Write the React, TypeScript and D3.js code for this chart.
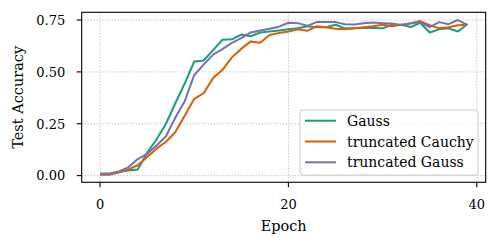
import React, { useEffect, useRef } from "react";
import * as d3 from "d3";

// test accuracy per epoch
const epochs = d3.range(40);

const gaussAcc = [
  0.005, 0.005, 0.018, 0.025, 0.03, 0.11, 0.175, 0.25, 0.35, 0.445,
  0.55, 0.555, 0.605, 0.655, 0.657, 0.68, 0.672, 0.69, 0.695, 0.7,
  0.705, 0.71, 0.72, 0.715, 0.715, 0.727, 0.71, 0.71, 0.712, 0.712,
  0.71, 0.727, 0.727, 0.716, 0.737, 0.69, 0.705, 0.71, 0.695, 0.73,
];

const cauchyAcc = [
  0.005, 0.005, 0.015, 0.03, 0.05, 0.09, 0.13, 0.163, 0.21, 0.29,
  0.37, 0.397, 0.47, 0.51, 0.57, 0.612, 0.647, 0.64, 0.678, 0.688,
  0.695, 0.705, 0.698, 0.72, 0.715, 0.708, 0.705, 0.71, 0.715, 0.72,
  0.727, 0.72, 0.727, 0.735, 0.745, 0.725, 0.71, 0.715, 0.725, 0.727,
];

const truncGaussAcc = [
  0.01, 0.01, 0.02, 0.04, 0.08, 0.105, 0.145, 0.19, 0.28, 0.36,
  0.485, 0.535, 0.583, 0.61, 0.64, 0.663, 0.69, 0.7, 0.708, 0.718,
  0.737, 0.735, 0.722, 0.74, 0.74, 0.74, 0.73, 0.728, 0.735, 0.738,
  0.735, 0.733, 0.725, 0.733, 0.74, 0.716, 0.74, 0.73, 0.75, 0.727,
];

const seriesNames = ["Gauss", "truncated Cauchy", "truncated Gauss"];
const seriesColors = ["#1b9e77", "#d95f02", "#7570b3"];

const xTicks = [0, 20, 40];
const yTicks = [0, 0.25, 0.5, 0.75];

const W = 498;
const H = 247;
const FONT = "'DejaVu Serif', serif";

export default function App() {
  const ref = useRef<SVGSVGElement>(null);

  useEffect(() => {
    const margin = { top: 12.3, right: 12.3, bottom: 64.7, left: 81.7 };
    const svg = d3.select(ref.current);
    svg.selectAll("*").remove();

    const allSeries = [gaussAcc, cauchyAcc, truncGaussAcc];

    // matplotlib style 5% padding around the data
    const xPad = (epochs.length - 1) * 0.05;
    const yMin = d3.min(allSeries, (s) => d3.min(s)) as number;
    const yMax = d3.max(allSeries, (s) => d3.max(s)) as number;
    const yPad = (yMax - yMin) * 0.05;

    const x = d3
      .scaleLinear()
      .domain([-xPad, epochs.length - 1 + xPad])
      .range([margin.left, W - margin.right]);
    const y = d3
      .scaleLinear()
      .domain([yMin - yPad, yMax + yPad])
      .range([H - margin.bottom, margin.top]);

    // dotted grid
    const grid = svg.append("g");
    grid
      .selectAll("line.gx")
      .data(xTicks)
      .join("line")
      .attr("x1", (d) => x(d))
      .attr("x2", (d) => x(d))
      .attr("y1", margin.top)
      .attr("y2", H - margin.bottom)
      .attr("stroke", "#b0b0b0")
      .attr("stroke-width", 1)
      .attr("stroke-dasharray", "1,2");
    grid
      .selectAll("line.gy")
      .data(yTicks)
      .join("line")
      .attr("x1", margin.left)
      .attr("x2", W - margin.right)
      .attr("y1", (d) => y(d))
      .attr("y2", (d) => y(d))
      .attr("stroke", "#b0b0b0")
      .attr("stroke-width", 1)
      .attr("stroke-dasharray", "1,2");

    // the curves
    const line = d3
      .line<number>()
      .x((_, i) => x(epochs[i]))
      .y((d) => y(d));
    allSeries.forEach((s, i) => {
      svg
        .append("path")
        .datum(s)
        .attr("d", line)
        .attr("fill", "none")
        .attr("stroke", seriesColors[i])
        .attr("stroke-width", 2)
        .attr("stroke-linejoin", "round");
    });

    // frame
    svg
      .append("rect")
      .attr("x", margin.left)
      .attr("y", margin.top)
      .attr("width", W - margin.left - margin.right)
      .attr("height", H - margin.top - margin.bottom)
      .attr("fill", "none")
      .attr("stroke", "black")
      .attr("stroke-width", 1.1);

    // x ticks
    const xt = svg
      .append("g")
      .selectAll("g")
      .data(xTicks)
      .join("g")
      .attr("transform", (d) => `translate(${x(d)},${H - margin.bottom})`);
    xt.append("line").attr("y2", 5).attr("stroke", "black").attr("stroke-width", 1.1);
    xt.append("text")
      .attr("y", 27.2)
      .attr("text-anchor", "middle")
      .style("font-family", FONT)
      .style("font-size", "13px")
      .text((d) => String(d));

    // y ticks
    const yt = svg
      .append("g")
      .selectAll("g")
      .data(yTicks)
      .join("g")
      .attr("transform", (d) => `translate(${margin.left},${y(d)})`);
    yt.append("line").attr("x2", -5).attr("stroke", "black").attr("stroke-width", 1.1);
    yt.append("text")
      .attr("x", -16.5)
      .attr("y", 4.8)
      .attr("text-anchor", "end")
      .style("font-family", FONT)
      .style("font-size", "13px")
      .text((d) => d.toFixed(2));

    // axis titles
    svg
      .append("text")
      .attr("x", (margin.left + W - margin.right) / 2)
      .attr("y", 231)
      .attr("text-anchor", "middle")
      .style("font-family", FONT)
      .style("font-size", "14.5px")
      .text("Epoch");
    svg
      .append("text")
      .attr("transform", `translate(23,${(margin.top + H - margin.bottom) / 2}) rotate(-90)`)
      .attr("text-anchor", "middle")
      .style("font-family", FONT)
      .style("font-size", "14.5px")
      .text("Test Accuracy");

    // legend
    const lg = svg.append("g").attr("transform", "translate(300,110)");
    lg.append("rect")
      .attr("width", 178)
      .attr("height", 65)
      .attr("rx", 3)
      .attr("fill", "white")
      .attr("fill-opacity", 0.8)
      .attr("stroke", "#cccccc")
      .attr("stroke-width", 1);
    const rows = lg
      .selectAll("g")
      .data(seriesNames)
      .join("g")
      .attr("transform", (_, i) => `translate(0,${10.7 + i * 20.8})`);
    rows
      .append("line")
      .attr("x1", 5)
      .attr("x2", 36)
      .attr("stroke", (_, i) => seriesColors[i])
      .attr("stroke-width", 2);
    rows
      .append("text")
      .attr("x", 47)
      .attr("y", 5)
      .style("font-family", FONT)
      .style("font-size", "14px")
      .text((d) => d);
  }, []);

  return (
    <svg
      ref={ref}
      width={W}
      height={H}
      style={{ position: "absolute", left: 0, top: 0, background: "white" }}
    />
  );
}
